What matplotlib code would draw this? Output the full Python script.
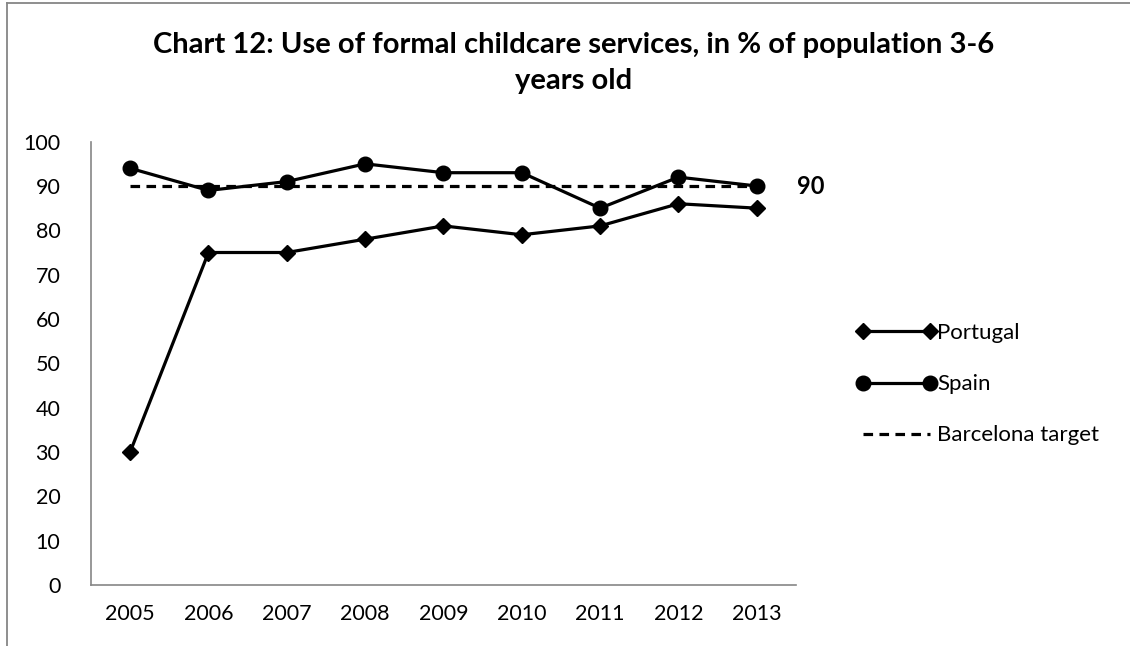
import matplotlib
matplotlib.use("Agg")
import matplotlib.pyplot as plt
from matplotlib.lines import Line2D

# Chart data
years = ["2005", "2006", "2007", "2008", "2009", "2010", "2011", "2012", "2013"]
portugal = [30, 75, 75, 78, 81, 79, 81, 86, 85]
spain = [94, 89, 91, 95, 93, 93, 85, 92, 90]
target = [90, 90, 90, 90, 90, 90, 90, 90, 90]

plt.rcParams['font.family'] = ['Lato', 'DejaVu Sans']

fig = plt.figure(figsize=(11.3, 6.46), dpi=100)
ax = fig.add_axes([0.0805, 0.0944, 0.6239, 0.6863])

x = list(range(len(years)))
ax.plot(x, portugal, color='black', lw=2.3, marker='D', markersize=8, label='Portugal')
ax.plot(x, spain, color='black', lw=2.3, marker='o', markersize=10.5, label='Spain')
ax.plot(x, target, color='black', lw=2.3, linestyle=(0, (3, 2)), label='Barcelona target')

# value label on the last Spain point
ax.annotate(str(spain[-1]), (x[-1], spain[-1]), xytext=(29, 0), textcoords='offset points',
            ha='left', va='center', fontsize=17, fontweight='bold')

ax.set_xlim(-0.5, len(years) - 0.5)
ax.set_ylim(0, 100)
ax.set_xticks(x)
ax.set_xticklabels(years)
ax.set_yticks(range(0, 101, 10))
ax.tick_params(length=0, labelsize=15.5, pad=14)
ax.tick_params(axis='y', pad=22)
for side in ['top', 'right']:
    ax.spines[side].set_visible(False)
for side in ['left', 'bottom']:
    ax.spines[side].set_color('#868686')
    ax.spines[side].set_linewidth(1.2)

fig.text(0.508, 0.93, 'Chart 12: Use of formal childcare services, in % of population 3-6',
         ha='center', va='center', fontsize=21, fontweight='bold')
fig.text(0.508, 0.874, 'years old', ha='center', va='center', fontsize=21, fontweight='bold')

# legend handles with a marker at each end of the line
handles = [
    Line2D([0, 1], [0, 0], color='black', lw=2.3, marker='D', markersize=8, markevery=[0, 1]),
    Line2D([0, 1], [0, 0], color='black', lw=2.3, marker='o', markersize=10.5, markevery=[0, 1]),
    Line2D([0, 1], [0, 0], color='black', lw=2.3, linestyle=(0, (3, 2))),
]
leg = fig.legend(handles, ['Portugal', 'Spain', 'Barcelona target'], loc='center left',
                 bbox_to_anchor=(0.74, 0.405), frameon=False, fontsize=16,
                 handlelength=3.6, handletextpad=0.05, labelspacing=1.4, numpoints=2)

# outer chart border (cut off on the right and bottom)
fig.add_artist(Line2D([0.0065, 0.0065], [0, 0.996], color='#868686', lw=1.3))
fig.add_artist(Line2D([0.0065, 1.0], [0.996, 0.996], color='#868686', lw=1.3))

fig.savefig('out.png', dpi=100)
